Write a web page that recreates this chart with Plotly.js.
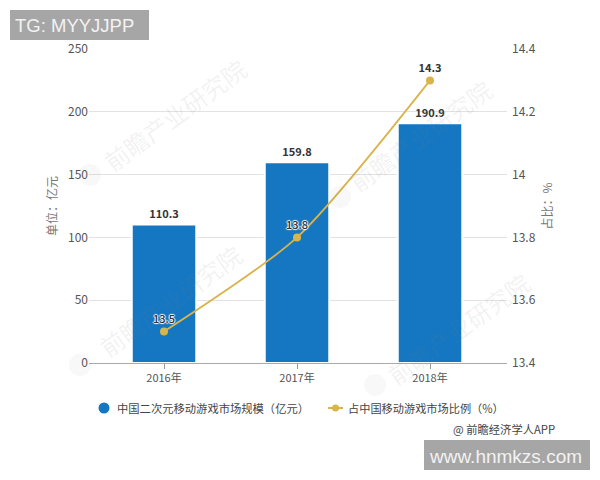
<!DOCTYPE html>
<html>
<head>
<meta charset="utf-8">
<script src="https://cdn.plot.ly/plotly-3.0.1.min.js"></script>
<style>html,body{margin:0;padding:0;background:#fff}#chart{width:600px;height:480px}</style>
</head>
<body>
<div id="chart"></div>
<script>
const years = ['2016年', '2017年', '2018年'];
const marketSize = [110.3, 159.8, 190.9];
const marketShare = [13.5, 13.8, 14.3];
const sizeName = '中国二次元移动游戏市场规模（亿元）';
const shareName = '占中国移动游戏市场比例（%）';
const leftTicks = [0, 50, 100, 150, 200, 250];
const rightTicks = [13.4, 13.6, 13.8, 14, 14.2, 14.4];
const rightLabels = ['13.4', '13.6', '13.8', '14', '14.2', '14.4'];

const BLUE = '#1577C2';
const GOLD = '#D9B44A';
const FONT = '"Noto Sans CJK SC", "DejaVu Sans", sans-serif';
const HALO = '1px 0 1px #fff, -1px 0 1px #fff, 0 1px 1px #fff, 0 -1px 1px #fff';

const traces = [
  {
    x: years, y: marketSize, type: 'bar', name: sizeName, width: 0.485,
    marker: { color: BLUE, line: { color: '#fff', width: 2 } },
    text: marketSize.map(v => v.toFixed(1)), textposition: 'outside', cliponaxis: false,
    textfont: { family: FONT, size: 11, color: '#333', weight: 700 },
    hoverinfo: 'skip'
  },
  {
    x: years, y: marketShare, type: 'scatter', mode: 'lines+markers+text', name: shareName, yaxis: 'y2',
    line: { color: GOLD, width: 1.8, shape: 'spline', smoothing: 0.7 },
    marker: { color: GOLD, size: 8 },
    text: marketShare.map(v => v.toFixed(1)), textposition: 'top center',
    textfont: { family: FONT, size: 11, color: '#333', weight: [500, 500, 700], shadow: HALO },
    hoverinfo: 'skip'
  }
];

// plot area in page pixels, page-level marks below are placed relative to it
const M = { l: 89, r: 93, t: 49, b: 117 };
const pw = 600 - M.l - M.r, ph = 480 - M.t - M.b;
const px = x => (x - M.l) / pw;
const py = y => 1 - (y - M.t) / ph;

const layout = {
  width: 600, height: 480,
  paper_bgcolor: '#fff', plot_bgcolor: 'rgba(0,0,0,0)',
  font: { family: FONT, size: 11, color: '#555' },
  margin: { l: M.l, r: M.r, t: M.t, b: M.b, pad: 0 },
  showlegend: false,
  xaxis: {
    type: 'category', range: [-0.564, 2.579], ticks: 'outside', ticklen: 5, tickcolor: '#999',
    showline: true, linecolor: '#aaa', linewidth: 1, layer: 'above traces',
    tickfont: { size: 11, color: '#555' }
  },
  yaxis: {
    range: [0, 250], tickvals: leftTicks, showgrid: true, gridcolor: '#E2E2E2', gridwidth: 1,
    zeroline: false, ticks: '', tickfont: { size: 12, color: '#555' },
    title: { text: '单位：亿元', font: { size: 12, color: '#777' }, standoff: 7 }
  },
  yaxis2: {
    overlaying: 'y', side: 'right', range: [13.4, 14.4], tickvals: rightTicks, ticktext: rightLabels,
    showgrid: false, zeroline: false, ticks: '', ticklabelstandoff: 4, tickfont: { size: 12, color: '#555' },
    title: { text: '占比：%', font: { size: 12, color: '#777' }, standoff: 8 }
  },
  shapes: [],
  annotations: []
};

function box(x0, x1, y0, y1, color) {
  layout.shapes.push({ type: 'rect', xref: 'paper', yref: 'paper', x0: px(x0), x1: px(x1), y0: py(y1), y1: py(y0), fillcolor: color, line: { width: 0 } });
}
function dot(cx, cy, r, color) {
  layout.shapes.push({ type: 'circle', xref: 'paper', yref: 'paper', x0: px(cx - r), x1: px(cx + r), y0: py(cy + r), y1: py(cy - r), fillcolor: color, line: { width: 0 } });
}
function note(text, x, y, opts) {
  layout.annotations.push(Object.assign({
    text: text, xref: 'paper', yref: 'paper', x: px(x), y: py(y), showarrow: false,
    xanchor: 'left', yanchor: 'middle', font: { size: 11, color: '#444' }
  }, opts || {}));
}

// gray banners
box(10, 149, 10, 40, '#A6A6A6');
box(424, 590, 440, 470, '#A6A6A6');
note('TG: MYYJJPP', 13, 25, { font: { family: 'Liberation Sans', size: 18.5, color: '#f2f2f2' } });
note('www.hnmkzs.com', 427, 456, { font: { family: 'Liberation Sans', size: 19, color: '#f2f2f2' } });

// legend and credit
dot(104, 408, 5.5, BLUE);
note(sizeName, 115, 408, { font: { size: 11.3, color: '#444' } });
layout.shapes.push({ type: 'line', xref: 'paper', yref: 'paper', x0: px(328), x1: px(343), y0: py(408), y1: py(408), line: { color: GOLD, width: 2 } });
dot(335.5, 408, 3.5, GOLD);
note(shareName, 346, 408, { font: { size: 11.2, color: '#444' } });
note('@ 前瞻经济学人APP', 451, 429, { font: { size: 11.3, color: '#444' } });

// watermarks: text centre, then the round logo at its lower left
const wmText = [[175, 115], [170, 300], [420, 135], [458, 328]];
const wmLogo = [[90, 175], [80, 365], [340, 197], [375, 385]];
wmText.forEach(p => note('前瞻产业研究院', p[0], p[1], {
  xanchor: 'center', textangle: -36, font: { size: 24, color: 'rgba(120,120,120,0.10)' }
}));
wmLogo.forEach(p => dot(p[0], p[1], 11, 'rgba(120,120,120,0.05)'));

Plotly.newPlot('chart', traces, layout, { displayModeBar: false, responsive: false });
</script>
</body>
</html>
